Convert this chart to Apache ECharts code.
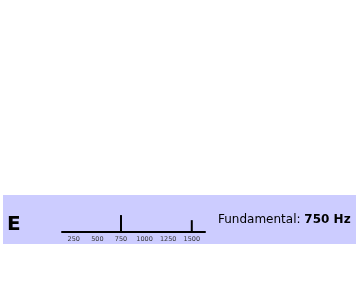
<!DOCTYPE html>
<html><head><meta charset="utf-8">
<script src="https://cdn.jsdelivr.net/npm/echarts@6/dist/echarts.min.js"></script>
<style>html,body{margin:0;padding:0;background:#fff}#c{width:360px;height:300px}</style>
</head><body><div id="c"></div>
<script>
var vowel = 'E';
var fundamental = '750 Hz';
var freqs = [750, 1500];
var amplitudes = [1.0, 0.7];
var tickLabels = [250, 500, 750, 1000, 1250, 1500];

var chart = echarts.init(document.getElementById('c'));
chart.setOption({
  animation: false,
  backgroundColor: '#ffffff',
  graphic: [{
    type: 'rect', z: -10, silent: true,
    shape: {x: 3, y: 195, width: 353, height: 49},
    style: {fill: '#ccccff'}
  }],
  title: [{
    text: vowel, left: 7, top: 215, padding: 0,
    textStyle: {fontFamily: 'DejaVu Sans', fontSize: 20, fontWeight: 'bold', color: '#000'}
  }, {
    text: '{n|Fundamental: }{b|' + fundamental + '}', left: 218, top: 214, padding: 0,
    textStyle: {rich: {
      n: {fontFamily: 'DejaVu Sans', fontSize: 12, fontWeight: 'normal', color: '#000'},
      b: {fontFamily: 'DejaVu Sans', fontSize: 12, fontWeight: 'bold', color: '#000'}
    }}
  }],
  grid: {left: 62, right: 155, top: 210, bottom: 68},
  xAxis: {
    type: 'value', min: 125, max: 1640,
    axisLine: {show: true, lineStyle: {color: '#000', width: 2}},
    axisTick: {show: false},
    splitLine: {show: false},
    axisLabel: {
      customValues: tickLabels, margin: 4,
      formatter: function (v) { return String(v); },
      fontFamily: 'DejaVu Sans', fontSize: 6.5, color: '#333'
    }
  },
  yAxis: {type: 'value', min: 0, max: 1.3, show: false},
  series: [{
    type: 'bar',
    data: freqs.map(function (f, i) { return [f, amplitudes[i]]; }),
    barWidth: 2,
    itemStyle: {color: '#000'}
  }]
});
</script></body></html>
